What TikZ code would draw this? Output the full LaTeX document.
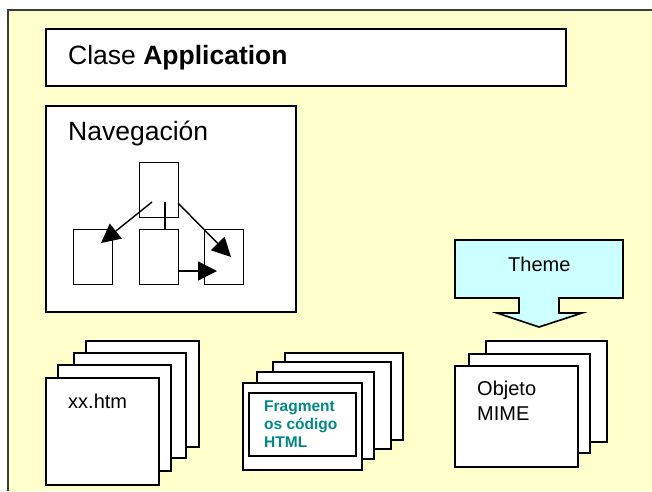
\documentclass[tikz,border=0pt]{standalone}
\usepackage{fontspec}
\setmainfont{Liberation Sans}
\usetikzlibrary{arrows.meta}
\definecolor{bgyellow}{RGB}{255,255,204}
\definecolor{themecyan}{RGB}{204,255,255}
\definecolor{tealtext}{RGB}{0,136,136}
\definecolor{framegray}{RGB}{60,60,60}
\begin{document}
\begin{tikzpicture}[x=1pt,y=-1pt,
  box/.style={draw=black,fill=white,line width=1.7pt},
  page/.style={draw=black,fill=white,line width=1.7pt},
  gbox/.style={draw=black,fill=white,line width=1.4pt,minimum width=39pt,minimum height=55pt,inner sep=0pt,anchor=north west},
  conn/.style={line width=1.4pt},
  arr/.style={conn,-{Triangle[length=19pt,width=19pt]}},
  big/.style={font=\fontsize{26.5}{30}\selectfont},
  mid/.style={font=\fontsize{20}{25}\selectfont},
  frag/.style={font=\fontsize{15.5}{18}\selectfont\bfseries,text=tealtext},
  lbl/.style={inner sep=0pt,anchor=base west}]
\useasboundingbox (0,0) rectangle (652,491);
% outer frame
\fill[bgyellow] (8,10) rectangle (652,491);
\draw[framegray,line width=2pt] (8,491) -- (8,10) -- (652,10);
% Clase Application
\draw[box] (46,29) rectangle (566,86);
\node[lbl,big] (clase) at (68,64) {Clase \textbf{Application}};
% Navegacion
\draw[box] (46,106) rectangle (296,312);
\node[lbl,big] (nav) at (68,140) {Navegación};
\node[gbox] (top) at (139,162) {};
\node[gbox] (bl) at (73,229) {};
\node[gbox] (bm) at (139,229) {};
\node[gbox] (br) at (204,229) {};
\coordinate (s1) at (152,202);
\coordinate (t1) at (101,243);
\coordinate (s2) at (178,203);
\coordinate (t2) at (231,257);
\coordinate (s3) at (165,202);
\coordinate (s4) at (178,271);
\coordinate (t4) at (217,271);
\draw[arr] (s1) -- (t1);
\draw[arr] (s2) -- (t2);
\draw[conn] (s3) -- (s3 |- bm.north);
\draw[arr] (s4) -- (t4);
% stack 1
\draw[page] (86,341) rectangle (199,447);
\draw[page] (74,353) rectangle (186,458);
\draw[page] (58,365) rectangle (171,471);
\draw[page] (46,378) rectangle (159,485);
\node[lbl,mid] (xx) at (68,408) {xx.htm};
% stack 2
\draw[page] (285,353) rectangle (403,440);
\draw[page] (273,362) rectangle (391,449);
\draw[page] (257,372) rectangle (374,459);
\draw[page] (243,383) rectangle (362,470);
\draw[page] (249,393) rectangle (356,456);
\node[lbl,frag] (f1) at (264,411) {Fragment};
\node[lbl,frag] (f2) at (264,429) {os código};
\node[lbl,frag] (f3) at (264,447) {HTML};
% theme arrow
\draw[draw=black,fill=themecyan,line width=1.7pt,line join=miter]
  (455,240) -- (623,240) -- (623,298) -- (559,298) -- (559,313) -- (582,313)
  -- (539,327) -- (497,313) -- (519,313) -- (519,298) -- (455,298) -- cycle;
\node[lbl,mid] (theme) at (508,271) {Theme};
% stack 3
\draw[page] (486,341) rectangle (607,442);
\draw[page] (469,354) rectangle (590,453);
\draw[page] (455,366) rectangle (578,467);
\node[lbl,mid] (obj) at (477,395) {Objeto};
\node[lbl,mid] (mime) at (477,420) {MIME};
\end{tikzpicture}
\end{document}
